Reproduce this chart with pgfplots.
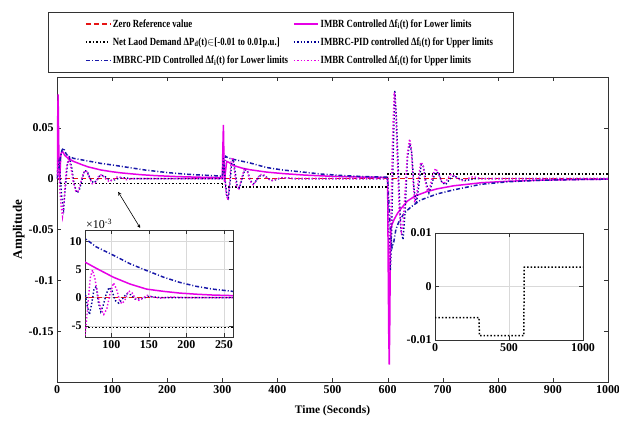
\documentclass[border=0pt]{standalone}
\usepackage{pgfplots}
\pgfplotsset{compat=1.18}
\usepackage{fontspec}
\setmainfont{Liberation Serif}
\newfontfamily\legfont{Liberation Serif}[FakeStretch=0.8]
\definecolor{mag}{RGB}{230,0,230}
\definecolor{navyd}{RGB}{0,0,150}
\definecolor{bluedd}{RGB}{25,25,170}
\definecolor{zred}{RGB}{230,20,20}
\begin{document}
\begin{tikzpicture}
\pgfplotsset{
  every axis/.append style={
    /pgf/number format/assume math mode=true,
    /pgf/number format/1000 sep={},
    tick label style={font=\bfseries\fontsize{12}{14}\selectfont},
    axis line style={black!80},
    tick style={black!80},
  },
}
\begin{axis}[
  at={(0,0)}, anchor=south west,
  scale only axis, width=551bp, height=305bp,
  xmin=0, xmax=1000, ymin=-0.2, ymax=0.1,
  xtick={0,100,...,1000},
  ytick={-0.15,-0.1,-0.05,0,0.05},
  scaled y ticks=false,
  yticklabel style={/pgf/number format/fixed,/pgf/number format/precision=2},
  xlabel={\bfseries\fontsize{11.5}{13}\selectfont Time (Seconds)},
  ylabel={\bfseries\fontsize{13}{15}\selectfont Amplitude},
  xlabel style={yshift=-5pt},
  ylabel style={yshift=-3pt},
  legend columns=2,
  legend style={at={(0.0436,1.206)}, anchor=north west, font=\legfont\bfseries\fontsize{11}{13}\selectfont,
    draw=none, fill=none,
    cells={anchor=west}, row sep=5pt, inner xsep=4pt, inner ysep=3pt,
    /tikz/every even column/.append style={column sep=3pt}},
  legend image code/.code={\draw[#1] (0cm,0cm) -- (0.85cm,0cm);},
]
\addplot[draw=zred, line width=1.4pt, dash pattern=on 5pt off 3pt] coordinates {(0,0) (1000,0)};
\addlegendentry{Zero Reference value}
\addplot[color=mag, line width=1.5pt] coordinates {
(0,0) (1,0.05) (2,0.083) (3,0.04) (4,0.003) (5,0.0) (6,0.012) (7,0.024) (9,0.027) (11,0.026) (14,0.023) (20,0.02) (30,0.017) (45,0.0138) (57,0.0115) (80,0.0085) (100,0.0068) (118,0.0056) (150,0.004) (178,0.003) (220,0.002) (260,0.0014) (300,0.001)
(301,0.03) (302,0.053) (303,0.02) (304,-0.003) (306,0.008) (308,0.017) (312,0.016) (320,0.013) (335,0.0105) (350,0.0088) (380,0.0065) (410,0.005) (450,0.0035) (500,0.0023) (550,0.0016) (600,0.0012)
(601,-0.08) (602,-0.15) (603,-0.183) (604,-0.14) (605,-0.07) (606,-0.05) (608,-0.045) (612,-0.04) (618,-0.034) (625,-0.029) (636,-0.022) (650,-0.017) (670,-0.013) (690,-0.01) (720,-0.007) (770,-0.004) (820,-0.0025) (880,-0.0015) (950,-0.0008) (1000,-0.0005)};
\addlegendentry{IMBR Controlled Δf\textsubscript{i}(t) for Lower limits}
\addplot[draw=black, line width=1.5pt, dotted] coordinates {(0,-0.005) (300,-0.005) (300,-0.008) (600,-0.008) (600,0.0045) (1000,0.0045)};
\addlegendentry{Net Laod Demand ΔP\textsubscript{d}(t)$\in$[-0.01 to 0.01p.u.]}
\addplot[draw=navyd, line width=1.4pt, dotted] coordinates {
(0,0) (3,0.02) (6,0.0) (9,-0.02) (12,-0.03) (15,-0.01) (19,0.015) (23,0.02) (27,0.01) (31,-0.005) (36,-0.014) (40,-0.012) (45,-0.002) (50,0.008) (55,0.007) (60,0.0) (66,-0.004) (72,-0.002) (78,0.003) (85,0.003) (92,0.0) (100,-0.002) (110,0.0) (120,0.001) (135,0.0) (300,0.0)
(302,0.02) (305,0.0) (308,-0.016) (311,-0.019) (314,-0.005) (317,0.016) (320,0.019) (323,0.008) (327,-0.007) (331,-0.009) (336,0.0) (341,0.009) (346,0.007) (351,-0.002) (357,-0.005) (363,-0.001) (369,0.003) (376,0.003) (384,0.0) (392,-0.002) (402,0.0) (412,0.001) (430,0.0) (600,0.0)
(602,-0.05) (605,-0.09) (607,-0.06) (610,0.02) (613,0.087) (616,0.06) (620,0.0) (624,-0.05) (628,-0.06) (632,-0.03) (636,0.02) (640,0.035) (644,0.025) (648,-0.01) (652,-0.025) (656,-0.01) (661,0.014) (665,0.012) (670,-0.004) (675,-0.014) (680,-0.006) (686,0.006) (692,0.006) (698,-0.003) (705,-0.006) (712,-0.001) (720,0.003) (730,0.0) (740,-0.002) (760,0.0) (1000,0.0)};
\addlegendentry{IMBRC-PID controlled Δf\textsubscript{i}(t) for Upper limits}
\addplot[draw=bluedd, line width=1.5pt, dash pattern=on 4pt off 2pt on 1pt off 2pt] coordinates {
(0,0) (3,0.008) (6,0.02) (9,0.028) (12,0.03) (16,0.025) (20,0.022) (30,0.02) (40,0.019) (60,0.017) (80,0.015) (100,0.0135) (130,0.011) (160,0.0085) (200,0.006) (240,0.0042) (300,0.0025)
(303,0.012) (306,0.022) (309,0.021) (313,0.02) (320,0.019) (350,0.0155) (380,0.011) (410,0.0085) (441,0.0068) (480,0.0045) (520,0.003) (560,0.002) (600,0.0014)
(602,-0.02) (605,-0.05) (608,-0.068) (611,-0.063) (615,-0.05) (620,-0.043) (630,-0.034) (642,-0.028) (660,-0.021) (690,-0.015) (720,-0.011) (770,-0.0055) (820,-0.003) (880,-0.0015) (950,-0.0008) (1000,-0.0005)};
\addlegendentry{IMBRC-PID Controlled Δf\textsubscript{i}(t) for Lower limits}
\addplot[draw=mag, line width=1.4pt, dotted] coordinates {
(0,0) (2,0.03) (4,0.0) (7,-0.025) (10,-0.037) (13,-0.02) (17,0.01) (21,0.02) (25,0.012) (29,-0.002) (34,-0.012) (38,-0.013) (43,-0.004) (48,0.006) (53,0.008) (58,0.002) (64,-0.005) (70,-0.004) (76,0.003) (82,0.004) (88,0.0) (95,-0.003) (102,-0.001) (110,0.002) (118,0.001) (126,-0.001) (135,0.0) (300,0.0)
(302,0.03) (304,0.005) (307,-0.015) (310,-0.021) (313,-0.005) (316,0.018) (319,0.021) (322,0.008) (326,-0.008) (330,-0.01) (335,0.0) (340,0.01) (345,0.008) (350,-0.002) (356,-0.006) (362,-0.002) (368,0.004) (375,0.004) (382,0.0) (390,-0.002) (400,0.0) (410,0.001) (430,0.0) (600,0.0)
(602,-0.06) (604,-0.1) (606,-0.04) (609,0.04) (612,0.085) (614,0.08) (617,0.03) (621,-0.03) (625,-0.052) (628,-0.045) (632,-0.01) (636,0.025) (640,0.039) (643,0.03) (646,0.0) (649,-0.022) (652,-0.02) (656,0.0) (660,0.016) (664,0.014) (668,-0.002) (672,-0.012) (677,-0.008) (682,0.004) (687,0.01) (692,0.006) (697,-0.002) (702,-0.005) (708,-0.001) (714,0.004) (720,0.003) (727,0.0) (735,-0.002) (745,0.0) (755,0.002) (770,0.0) (1000,0.0)};
\addlegendentry{IMBR Controlled Δf\textsubscript{i}(t) for Upper limits}
\draw[<->, >=stealth, black, line width=0.6pt] (axis cs:111,-0.013) -- (axis cs:151,-0.0485);
\end{axis}
\draw[black!80, line width=0.6pt] (-9bp,310bp) rectangle (456bp,370bp);
% inset 1
\begin{axis}[
  name=ins1,
  at={(28bp,45bp)}, anchor=south west,
  scale only axis, width=148bp, height=107bp,
  axis background/.style={fill=white},
  xmin=65, xmax=262, ymin=-7, ymax=12,
  xtick={100,150,200,250}, ytick={-5,0,5,10},
  grid=major, major grid style={black!15},
]
\addplot[draw=zred, line width=1.4pt, dash pattern=on 5pt off 3pt] coordinates {(60,0) (270,0)};
\addplot[draw=mag, line width=1.5pt] coordinates {(60,6.6) (65,6.3) (80,5.2) (103,3.6) (125,2.4) (147,1.5) (170,1.1) (191,0.8) (213,0.6) (235,0.45) (262,0.35) (270,0.3)};
\addplot[draw=black, line width=1.5pt, dotted] coordinates {(60,-5.3) (270,-5.3)};
\addplot[draw=navyd, line width=1.4pt, dotted] coordinates {(60,2) (65,1.2) (68,-1.5) (71,-3) (74,-1) (77,1.5) (80,2) (83,-1) (86,-2.5) (89,-1.5) (93,0.5) (97,1.8) (101,1.2) (105,-0.5) (110,-1) (115,-0.2) (120,0.7) (126,0.5) (132,-0.3) (140,-0.2) (150,0.2) (165,0) (270,0)};
\addplot[draw=bluedd, line width=1.5pt, dash pattern=on 4pt off 2pt on 1pt off 2pt] coordinates {(60,11) (65,10.5) (80,9.0) (103,7.5) (125,6.0) (147,4.8) (170,3.6) (191,2.7) (213,2.0) (235,1.5) (262,1.1) (270,1.0)};
\addplot[draw=mag, line width=1.4pt, dotted] coordinates {(60,-9) (65,-7) (69,-1) (72,3.5) (75,4.9) (78,3.5) (82,0.5) (86,-2) (90,-3.0) (94,-2) (98,0.5) (103,2.6) (107,1.5) (111,-0.5) (114,-1.1) (118,-0.5) (123,1.2) (128,0.8) (132,-0.2) (137,-0.5) (142,-0.1) (148,0.4) (155,0.1) (165,-0.1) (180,0.1) (200,0.0) (270,0.0)};
\end{axis}
\node[anchor=south west, inner sep=1pt, font=\fontsize{12}{14}\selectfont] at (ins1.north west) {×10\textsuperscript{-3}};
% inset 2
\begin{axis}[
  at={(378bp,42bp)}, anchor=south west,
  scale only axis, width=148bp, height=107bp,
  axis background/.style={fill=white},
  xmin=0, xmax=1000, ymin=-0.01, ymax=0.01,
  xtick={0,500,1000}, ytick={-0.01,0,0.01},
  scaled y ticks=false,
  yticklabel style={/pgf/number format/fixed,/pgf/number format/precision=2},
  grid=major, major grid style={black!15},
]
\addplot[draw=black, line width=1.5pt, dotted] coordinates {(0,-0.0058) (297,-0.0058) (300,-0.0092) (600,-0.0092) (603,0.0036) (1000,0.0036)};
\end{axis}
\pgfresetboundingbox
\useasboundingbox (-57bp,-39bp) rectangle (562bp,382bp);
\end{tikzpicture}
\end{document}
